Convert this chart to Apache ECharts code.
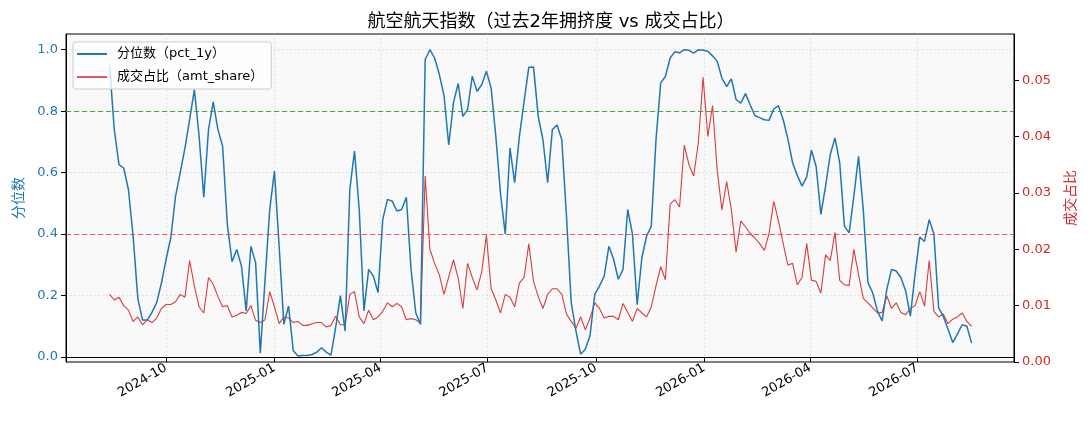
<!DOCTYPE html>
<html>
<head>
<meta charset="utf-8">
<script src="https://cdn.jsdelivr.net/npm/echarts@6/dist/echarts.min.js"></script>
<style>
html,body{margin:0;padding:0;background:#fff;}
#chart{width:1089px;height:429px;}
</style>
</head>
<body>
<div id="chart"></div>
<script>
const titleText = '航空航天指数（过去2年拥挤度 vs 成交占比）';
const seriesNames = ['分位数（pct_1y）', '成交占比（amt_share）'];
const leftAxisName = '分位数';
const rightAxisName = '成交占比';
const xTickLabels = ['2024-10','2025-01','2025-04','2025-07','2025-10','2026-01','2026-04','2026-07'];
const leftTicks = [0.0, 0.2, 0.4, 0.6, 0.8, 1.0];
const rightTicks = [0.00, 0.01, 0.02, 0.03, 0.04, 0.05];
const highLine = 0.8;
const lowLine = 0.4;
const xMin = '2024-07-08';
const xMax = '2026-09-21';

const dates = [
'2024-08-14','2024-08-18','2024-08-22','2024-08-26','2024-08-30','2024-09-03','2024-09-07','2024-09-11','2024-09-15','2024-09-19',
'2024-09-23','2024-09-27','2024-10-01','2024-10-05','2024-10-09','2024-10-13','2024-10-17','2024-10-21','2024-10-25','2024-10-29',
'2024-11-02','2024-11-06','2024-11-10','2024-11-14','2024-11-18','2024-11-22','2024-11-26','2024-11-30','2024-12-04','2024-12-08',
'2024-12-12','2024-12-16','2024-12-20','2024-12-24','2024-12-28','2025-01-01','2025-01-05','2025-01-09','2025-01-13','2025-01-17',
'2025-01-21','2025-01-25','2025-01-29','2025-02-02','2025-02-06','2025-02-10','2025-02-14','2025-02-18','2025-02-22','2025-02-26',
'2025-03-02','2025-03-06','2025-03-10','2025-03-14','2025-03-18','2025-03-22','2025-03-26','2025-03-30','2025-04-03','2025-04-07',
'2025-04-11','2025-04-15','2025-04-19','2025-04-23','2025-04-27','2025-05-01','2025-05-05','2025-05-09','2025-05-13','2025-05-17',
'2025-05-21','2025-05-25','2025-05-29','2025-06-02','2025-06-06','2025-06-10','2025-06-14','2025-06-18','2025-06-22','2025-06-26',
'2025-06-30','2025-07-04','2025-07-08','2025-07-12','2025-07-16','2025-07-20','2025-07-24','2025-07-28','2025-08-01','2025-08-05',
'2025-08-09','2025-08-13','2025-08-17','2025-08-21','2025-08-25','2025-08-29','2025-09-02','2025-09-06','2025-09-10','2025-09-14',
'2025-09-18','2025-09-22','2025-09-26','2025-09-30','2025-10-04','2025-10-08','2025-10-12','2025-10-16','2025-10-20','2025-10-24',
'2025-10-28','2025-11-01','2025-11-05','2025-11-09','2025-11-13','2025-11-17','2025-11-21','2025-11-25','2025-11-29','2025-12-03',
'2025-12-07','2025-12-11','2025-12-15','2025-12-19','2025-12-23','2025-12-27','2025-12-31','2026-01-04','2026-01-08','2026-01-12',
'2026-01-16','2026-01-20','2026-01-24','2026-01-28','2026-02-01','2026-02-05','2026-02-09','2026-02-13','2026-02-17','2026-02-21',
'2026-02-25','2026-03-01','2026-03-05','2026-03-09','2026-03-13','2026-03-17','2026-03-21','2026-03-25','2026-03-29','2026-04-02',
'2026-04-06','2026-04-10','2026-04-14','2026-04-18','2026-04-22','2026-04-26','2026-04-30','2026-05-04','2026-05-08','2026-05-12',
'2026-05-16','2026-05-20','2026-05-24','2026-05-28','2026-06-01','2026-06-05','2026-06-09','2026-06-13','2026-06-17','2026-06-21',
'2026-06-25','2026-06-29','2026-07-03','2026-07-07','2026-07-11','2026-07-15','2026-07-19','2026-07-23','2026-07-27','2026-07-31',
'2026-08-04','2026-08-08','2026-08-12','2026-08-16'
];

const pct1y = [
0.95,0.74,0.626,0.615,0.545,0.393,0.19,0.12,0.12,0.145,
0.177,0.24,0.318,0.388,0.523,0.60,0.68,0.773,0.87,0.72,
0.52,0.74,0.83,0.74,0.686,0.431,0.31,0.35,0.296,0.15,
0.36,0.307,0.012,0.25,0.48,0.605,0.36,0.106,0.166,0.02,
0.003,0.005,0.005,0.008,0.016,0.03,0.016,0.006,0.096,0.2,
0.085,0.545,0.67,0.48,0.15,0.285,0.263,0.21,0.448,0.513,
0.507,0.475,0.48,0.52,0.285,0.144,0.106,0.968,1.0,0.973,
0.92,0.85,0.69,0.827,0.89,0.783,0.805,0.914,0.865,0.886,
0.93,0.875,0.718,0.53,0.4,0.68,0.567,0.718,0.832,0.943,
0.944,0.783,0.707,0.567,0.74,0.755,0.707,0.458,0.177,0.085,
0.009,0.025,0.07,0.204,0.231,0.263,0.36,0.318,0.253,0.285,
0.48,0.4,0.17,0.323,0.393,0.426,0.707,0.892,0.913,0.973,
0.993,0.99,1.0,0.998,0.989,1.0,0.998,0.995,0.98,0.962,
0.907,0.88,0.905,0.838,0.826,0.857,0.82,0.785,0.779,0.772,
0.77,0.807,0.818,0.772,0.71,0.632,0.591,0.556,0.586,0.673,
0.62,0.464,0.556,0.659,0.713,0.632,0.426,0.404,0.523,0.653,
0.48,0.242,0.209,0.15,0.117,0.22,0.285,0.28,0.258,0.215,
0.133,0.27,0.39,0.376,0.447,0.4,0.16,0.132,0.09,0.047,
0.075,0.105,0.1,0.045
];

const amtShare = [
0.0120,0.0110,0.0115,0.0100,0.0092,0.0072,0.0080,0.0066,0.0075,0.0070,
0.0078,0.0095,0.0102,0.0102,0.0107,0.0120,0.0115,0.0180,0.0135,0.0098,
0.0087,0.0150,0.0138,0.0116,0.0098,0.0100,0.0080,0.0083,0.0088,0.0086,
0.0100,0.0074,0.0070,0.0075,0.0125,0.0098,0.0068,0.0080,0.0078,0.0070,
0.0072,0.0065,0.0065,0.0068,0.0070,0.0070,0.0062,0.0065,0.0081,0.0066,
0.0066,0.0120,0.0125,0.0080,0.0068,0.0092,0.0075,0.0080,0.0090,0.0105,
0.0098,0.0104,0.0098,0.0075,0.0077,0.0075,0.0069,0.0330,0.0200,0.0175,
0.0155,0.0120,0.0151,0.0181,0.0149,0.0095,0.0175,0.0150,0.0128,0.0160,
0.0225,0.0130,0.0110,0.0087,0.0120,0.0115,0.0098,0.0140,0.0150,0.0210,
0.0143,0.0116,0.0095,0.0120,0.0130,0.0130,0.0120,0.0085,0.0072,0.0060,
0.0080,0.0057,0.0078,0.0105,0.0095,0.0078,0.0081,0.0081,0.0075,0.0104,
0.0088,0.0072,0.0095,0.0087,0.0080,0.0098,0.0135,0.0169,0.0146,0.0280,
0.0288,0.0275,0.0385,0.0350,0.0330,0.0390,0.0505,0.0400,0.0455,0.0340,
0.0270,0.0320,0.0270,0.0195,0.0250,0.0240,0.0228,0.0220,0.0210,0.0198,
0.0228,0.0285,0.0250,0.0210,0.0172,0.0175,0.0137,0.0150,0.0210,0.0145,
0.0143,0.0122,0.0190,0.0180,0.0230,0.0145,0.0137,0.0136,0.0200,0.0155,
0.0113,0.0105,0.0096,0.0087,0.0088,0.0117,0.0095,0.0105,0.0088,0.0084,
0.0095,0.0100,0.0125,0.0099,0.0180,0.0090,0.0080,0.0085,0.0068,0.0076,
0.0080,0.0087,0.0072,0.0063
];

const FONT = '"DejaVu Sans", "Noto Sans CJK SC", sans-serif';
const BLUE = '#1f77b4';
const RED = '#d62728';
const RED_LINE = 'rgba(214,39,40,0.9)';

function dayTs(s) {
  const p = s.split('-');
  return new Date(+p[0], +p[1] - 1, p[2] ? +p[2] : 1).getTime();
}
const xTickValues = xTickLabels.map(dayTs);
function fmtMonth(v) {
  const d = new Date(v);
  return d.getFullYear() + '-' + String(d.getMonth() + 1).padStart(2, '0');
}

const chart = echarts.init(document.getElementById('chart'), null, {renderer: 'canvas'});
const gridLine = {show: true, lineStyle: {color: '#cfcfcf', width: 0.8, type: [1.5, 2.5]}};

chart.setOption({
  animation: false,
  textStyle: {fontFamily: FONT},
  title: {
    text: titleText,
    left: 546, top: 8, textAlign: 'center',
    textStyle: {fontFamily: FONT, fontSize: 18, fontWeight: 'normal', color: '#000'}
  },
  legend: {
    orient: 'vertical', left: 73, top: 42,
    padding: [4, 8, 4, 4], itemGap: 7, itemWidth: 30, itemHeight: 2, icon: 'rect',
    backgroundColor: 'rgba(255,255,255,0.8)', borderColor: '#cccccc', borderWidth: 1, borderRadius: 3,
    textStyle: {fontFamily: FONT, fontSize: 13, color: '#000', padding: [0, 0, 0, 5], lineHeight: 16},
    data: [
      {name: seriesNames[0], itemStyle: {color: BLUE}},
      {name: seriesNames[1], itemStyle: {color: 'rgba(214,39,40,0.75)'}}
    ]
  },
  grid: {
    left: 66, right: 75, top: 34, bottom: 67,
    show: true, backgroundColor: '#f9f9f9', borderColor: '#000', borderWidth: 1
  },
  xAxis: {
    type: 'value', min: dayTs(xMin), max: dayTs(xMax),
    axisLine: {show: true, lineStyle: {color: '#000', width: 1}},
    axisTick: {show: true, length: 5, lineStyle: {color: '#000'}, customValues: xTickValues},
    axisLabel: {
      customValues: xTickValues, formatter: fmtMonth, rotate: 30, margin: 5,
      fontFamily: FONT, fontSize: 13, color: '#000'
    },
    splitLine: gridLine
  },
  yAxis: [
    {
      type: 'value', min: -0.0163, max: 1.0511, position: 'left',
      name: leftAxisName, nameLocation: 'middle', nameGap: 40, nameRotate: 90,
      nameTextStyle: {fontFamily: FONT, fontSize: 14, color: BLUE},
      axisLine: {show: true, lineStyle: {color: '#000'}},
      axisTick: {show: true, length: 5, lineStyle: {color: '#000'}, customValues: leftTicks},
      axisLabel: {customValues: leftTicks, formatter: v => v.toFixed(1), margin: 8, fontFamily: FONT, fontSize: 13, color: BLUE},
      splitLine: gridLine
    },
    {
      type: 'value', min: 0, max: 0.0582, position: 'right',
      name: rightAxisName, nameLocation: 'middle', nameGap: 50, nameRotate: 90,
      nameTextStyle: {fontFamily: FONT, fontSize: 14, color: RED},
      axisLine: {show: true, lineStyle: {color: '#000'}},
      axisTick: {show: true, length: 5, lineStyle: {color: '#000'}, customValues: rightTicks},
      axisLabel: {customValues: rightTicks, formatter: v => v.toFixed(2), margin: 8, fontFamily: FONT, fontSize: 13, color: RED},
      splitLine: {show: false}
    }
  ],
  series: [
    {
      name: seriesNames[0], type: 'line', yAxisIndex: 0, symbol: 'none',
      data: dates.map((d, i) => [dayTs(d), pct1y[i]]),
      lineStyle: {color: BLUE, width: 1.5}, itemStyle: {color: BLUE},
      z: 3,
      markLine: {
        silent: true, symbol: ['none', 'none'], label: {show: false},
        data: [
          {yAxis: highLine, lineStyle: {color: 'rgba(44,160,44,0.9)', type: [5, 3], width: 1}},
          {yAxis: lowLine, lineStyle: {color: 'rgba(240,60,60,0.85)', type: [5, 3], width: 1}}
        ]
      }
    },
    {
      name: seriesNames[1], type: 'line', yAxisIndex: 1, symbol: 'none',
      data: dates.map((d, i) => [dayTs(d), amtShare[i]]),
      lineStyle: {color: RED_LINE, width: 1.1}, itemStyle: {color: RED_LINE},
      z: 2
    }
  ]
});
</script>
</body>
</html>
